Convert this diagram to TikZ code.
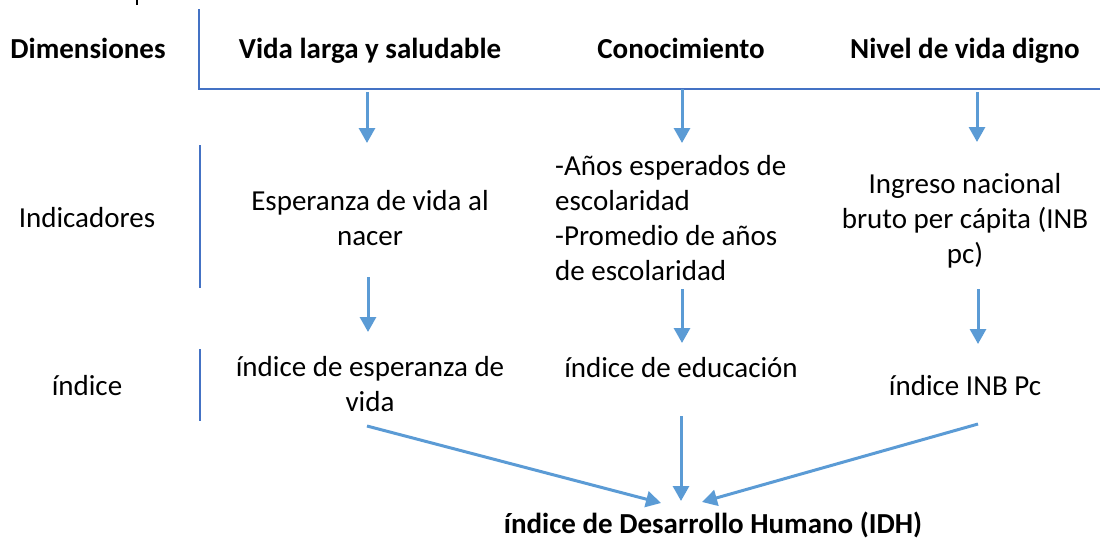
\documentclass[tikz,border=0pt]{standalone}
\usepackage{fontspec}
\setmainfont{Carlito}
\usetikzlibrary{arrows.meta}
\definecolor{arrblue}{HTML}{5B9BD5}
\definecolor{lineblue}{HTML}{4472C4}
\begin{document}
\begin{tikzpicture}[x=1pt,y=-1pt,
  txt/.style={inner sep=0pt, font=\fontsize{29}{35}\selectfont, anchor=base, align=center},
  hdr/.style={txt, font=\fontsize{29}{35}\selectfont\bfseries},
  arr/.style={draw=arrblue, line width=3pt, -{Triangle[width=16pt,length=15pt]}},
  sep/.style={draw=lineblue, line width=2pt, line join=miter}]
\useasboundingbox (0,0) rectangle (1100,542);
% table borders
\coordinate (t0) at (199,9);
\coordinate (t1) at (199,89);
\coordinate (t2) at (1100,89);
\draw[sep] (t0) -- (t1) -- (t2);
\coordinate (s0) at (200,145);
\coordinate (s1) at (200,288);
\draw[sep] (s0) -- (s1);
\coordinate (u0) at (200,349);
\coordinate (u1) at (200,421);
\draw[sep] (u0) -- (u1);
\coordinate (k0) at (137,0);
\coordinate (k1) at (137,5);
\draw[line width=2pt] (k0) -- (k1);
% texts (multi-line nodes: base = baseline of last line)
\node[hdr] (dim) at (88,58) {Dimensiones};
\node[hdr] (vida) at (370,58) {Vida larga y saludable};
\node[hdr] (con) at (681,58) {Conocimiento};
\node[hdr] (niv) at (965,58) {Nivel de vida digno};
\node[txt] (ind) at (87,227) {Indicadores};
\node[txt] (esp) at (370,245) {Esperanza de vida al\\nacer};
\node[txt, align=left, anchor=base west] (anos) at (555,280) {-Años esperados de\\escolaridad\\-Promedio de años\\de escolaridad};
\node[txt] (ing) at (965,263) {Ingreso nacional\\bruto per cápita (INB\\pc)};
\node[txt] (idx) at (87,395) {índice};
\node[txt] (iesp) at (370,411) {índice de esperanza de\\vida};
\node[txt] (iedu) at (681,377) {índice de educación};
\node[txt] (iinb) at (965,395) {índice INB Pc};
\node[hdr] (idh) at (713,533) {índice de Desarrollo Humano (IDH)};
% arrow ends
\coordinate (vida-o) at (367,92);  \coordinate (esp-i) at (367,143);
\coordinate (con-o) at (682,89);   \coordinate (anos-i) at (682,143);
\coordinate (niv-o) at (977,92);   \coordinate (ing-i) at (977,142);
\coordinate (esp-o) at (368,277);  \coordinate (iesp-i) at (368,332);
\coordinate (anos-o) at (682,289); \coordinate (iedu-i) at (682,343);
\coordinate (ing-o) at (978,289);  \coordinate (iinb-i) at (978,344);
\coordinate (iesp-o) at (367,426); \coordinate (idh-l) at (661,503);
\coordinate (iedu-o) at (681,416); \coordinate (idh-m) at (681,501);
\coordinate (iinb-o) at (978,424); \coordinate (idh-r) at (702,502);
\draw[arr] (vida-o) -- (esp-i);
\draw[arr] (con-o) -- (anos-i);
\draw[arr] (niv-o) -- (ing-i);
\draw[arr] (esp-o) -- (iesp-i);
\draw[arr] (anos-o) -- (iedu-i);
\draw[arr] (ing-o) -- (iinb-i);
\draw[arr] (iesp-o) -- (idh-l);
\draw[arr] (iedu-o) -- (idh-m);
\draw[arr] (iinb-o) -- (idh-r);
\end{tikzpicture}
\end{document}
